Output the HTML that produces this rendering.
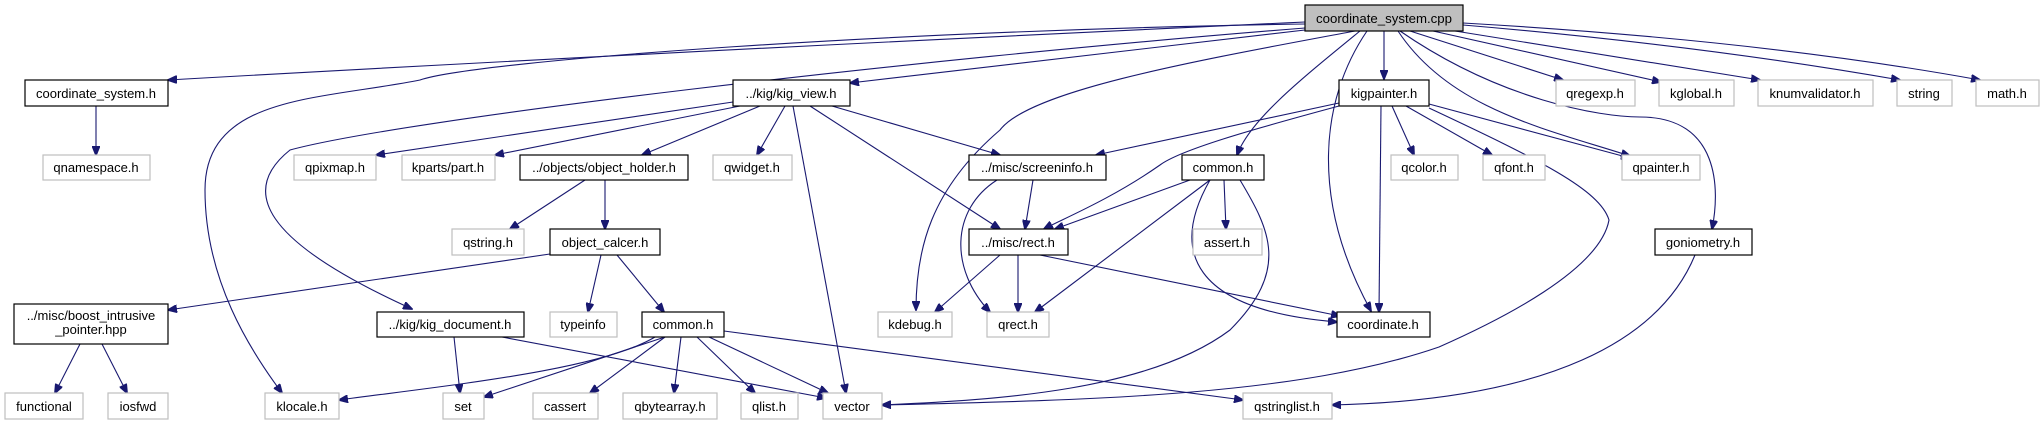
<!DOCTYPE html>
<html><head><meta charset="utf-8"><style>
html,body{margin:0;padding:0;background:#fff;}
svg{display:block}
text{font-family:"Liberation Sans",sans-serif;font-size:13px;fill:#000;text-anchor:middle}
.e{fill:none;stroke:#191970;stroke-width:1.1}
.b{fill:#fff;stroke:#000;stroke-width:1.2}
.g{fill:#fff;stroke:#bfbfbf;stroke-width:1.2}
</style></head><body>
<svg width="2044" height="425" viewBox="0 0 2044 425" xmlns="http://www.w3.org/2000/svg">
<defs><marker id="a" markerWidth="10" markerHeight="8" refX="9" refY="4" orient="auto" markerUnits="userSpaceOnUse"><path d="M0,0 L10,4 L0,8 z" fill="#191970" stroke="#191970"/></marker></defs>
<g class="e" marker-end="url(#a)">
<path d="M1305,22 Q700,50 168,80"/>
<path d="M96,106 L96,155"/>
<path d="M1305,24 C900,30 480,60 420,80 C320,100 205,95 205,190 C205,280 250,350 282,393"/>
<path d="M1305,28 C900,60 400,120 290,150 C240,190 260,240 412,309"/>
<path d="M1305,30 L850,83"/>
<path d="M1355,31 C1200,60 1030,90 1000,130 C930,190 916,250 916,310"/>
<path d="M1360,31 C1300,80 1250,120 1237,155"/>
<path d="M1384,31 L1384,79"/>
<path d="M1367,31 C1320,100 1310,200 1371,311"/>
<path d="M1398,31 C1450,110 1550,130 1630,156"/>
<path d="M1410,31 L1563,80"/>
<path d="M1433,31 L1661,82"/>
<path d="M1455,31 L1760,80"/>
<path d="M1463,25 Q1700,45 1900,80"/>
<path d="M1463,23 Q1760,40 1980,80"/>
<path d="M1400,31 C1500,100 1600,117 1640,117 C1720,117 1720,190 1712,229"/>
<path d="M733,102 L376,155"/>
<path d="M740,106 L495,155"/>
<path d="M760,106 L642,155"/>
<path d="M785,106 L757,155"/>
<path d="M793,106 L846,393"/>
<path d="M832,106 L1000,155"/>
<path d="M810,106 L1000,229"/>
<path d="M585,180 L510,229"/>
<path d="M605,180 L605,229"/>
<path d="M550,254 L168,310"/>
<path d="M601,255 L588,312"/>
<path d="M617,255 L664,312"/>
<path d="M80,344 L55,393"/>
<path d="M102,344 L127,393"/>
<path d="M454,337 L460,393"/>
<path d="M502,337 L826,398"/>
<path d="M655,337 C600,370 450,385 339,400"/>
<path d="M665,337 L484,397"/>
<path d="M665,337 L590,393"/>
<path d="M681,337 L674,393"/>
<path d="M697,337 L755,393"/>
<path d="M709,337 L828,393"/>
<path d="M724,331 L1243,400"/>
<path d="M1033,180 L1025,229"/>
<path d="M997,180 C950,210 950,270 990,312"/>
<path d="M1000,255 L935,312"/>
<path d="M1018,255 L1018,312"/>
<path d="M1040,255 L1340,316"/>
<path d="M1339,103 L1096,155"/>
<path d="M1339,106 C1250,130 1180,150 1160,165 C1110,200 1060,220 1044,229"/>
<path d="M1392,106 L1414,155"/>
<path d="M1406,106 L1492,155"/>
<path d="M1429,104 L1630,158"/>
<path d="M1381,106 L1379,312"/>
<path d="M1429,108 C1540,160 1600,190 1609,220 C1600,270 1500,320 1439,347 C1300,395 1100,400 882,405"/>
<path d="M1190,180 L1055,229"/>
<path d="M1224,180 L1226,229"/>
<path d="M1210,180 L1035,312"/>
<path d="M1210,180 C1170,250 1190,310 1337,322"/>
<path d="M1240,180 C1270,230 1290,270 1230,330 C1150,390 1000,400 882,405"/>
<path d="M1695,255 C1660,340 1550,400 1332,405"/>
</g>
<rect x="1305" y="5" width="158" height="26" fill="#bfbfbf" stroke="#000" stroke-width="1.2"/>
<text x="1384" y="23" textLength="136" lengthAdjust="spacingAndGlyphs">coordinate_system.cpp</text>
<g>
<rect class="b" x="25" y="80" width="143" height="26"/><text x="96" y="98">coordinate_system.h</text>
<rect class="g" x="43" y="155" width="107" height="25"/><text x="96" y="172">qnamespace.h</text>
<rect class="b" x="733" y="80" width="117" height="26"/><text x="791" y="98">../kig/kig_view.h</text>
<rect class="g" x="294" y="155" width="82" height="25"/><text x="335" y="172">qpixmap.h</text>
<rect class="g" x="402" y="155" width="93" height="25"/><text x="448" y="172">kparts/part.h</text>
<rect class="b" x="520" y="155" width="168" height="25"/><text x="604" y="172">../objects/object_holder.h</text>
<rect class="g" x="713" y="155" width="79" height="25"/><text x="752" y="172">qwidget.h</text>
<rect class="g" x="452" y="229" width="72" height="26"/><text x="488" y="247">qstring.h</text>
<rect class="b" x="550" y="229" width="110" height="26"/><text x="605" y="247">object_calcer.h</text>
<rect class="b" x="14" y="304" width="154" height="40"/><text x="91" y="320">../misc/boost_intrusive</text><text x="91" y="334">_pointer.hpp</text>
<rect class="b" x="377" y="312" width="147" height="25"/><text x="450" y="329">../kig/kig_document.h</text>
<rect class="g" x="550" y="312" width="67" height="25"/><text x="583" y="329">typeinfo</text>
<rect class="b" x="642" y="312" width="82" height="25"/><text x="683" y="329">common.h</text>
<rect class="g" x="878" y="312" width="74" height="25"/><text x="915" y="329">kdebug.h</text>
<rect class="g" x="5" y="393" width="78" height="26"/><text x="44" y="411">functional</text>
<rect class="g" x="108" y="393" width="60" height="26"/><text x="138" y="411">iosfwd</text>
<rect class="g" x="265" y="393" width="74" height="26"/><text x="302" y="411">klocale.h</text>
<rect class="g" x="443" y="393" width="41" height="26"/><text x="463" y="411">set</text>
<rect class="g" x="533" y="393" width="65" height="26"/><text x="565" y="411">cassert</text>
<rect class="g" x="623" y="393" width="94" height="26"/><text x="670" y="411">qbytearray.h</text>
<rect class="g" x="741" y="393" width="57" height="26"/><text x="769" y="411">qlist.h</text>
<rect class="g" x="823" y="393" width="59" height="26"/><text x="852" y="411">vector</text>
<rect class="b" x="969" y="155" width="137" height="25"/><text x="1037" y="172">../misc/screeninfo.h</text>
<rect class="b" x="969" y="229" width="99" height="26"/><text x="1018" y="247">../misc/rect.h</text>
<rect class="g" x="987" y="312" width="62" height="25"/><text x="1018" y="329">qrect.h</text>
<rect class="b" x="1339" y="80" width="90" height="26"/><text x="1384" y="98">kigpainter.h</text>
<rect class="b" x="1182" y="155" width="82" height="25"/><text x="1223" y="172">common.h</text>
<rect class="g" x="1391" y="155" width="67" height="25"/><text x="1424" y="172">qcolor.h</text>
<rect class="g" x="1483" y="155" width="62" height="25"/><text x="1514" y="172">qfont.h</text>
<rect class="g" x="1622" y="155" width="78" height="25"/><text x="1661" y="172">qpainter.h</text>
<rect class="g" x="1193" y="229" width="69" height="26"/><text x="1227" y="247">assert.h</text>
<rect class="b" x="1655" y="229" width="97" height="26"/><text x="1703" y="247">goniometry.h</text>
<rect class="b" x="1337" y="312" width="93" height="25"/><text x="1383" y="329">coordinate.h</text>
<rect class="g" x="1243" y="393" width="89" height="26"/><text x="1287" y="411">qstringlist.h</text>
<rect class="g" x="1556" y="80" width="79" height="26"/><text x="1595" y="98">qregexp.h</text>
<rect class="g" x="1659" y="80" width="75" height="26"/><text x="1696" y="98">kglobal.h</text>
<rect class="g" x="1758" y="80" width="115" height="26"/><text x="1815" y="98">knumvalidator.h</text>
<rect class="g" x="1897" y="80" width="55" height="26"/><text x="1924" y="98">string</text>
<rect class="g" x="1976" y="80" width="63" height="26"/><text x="2007" y="98">math.h</text>
</g>
</svg>
</body></html>
